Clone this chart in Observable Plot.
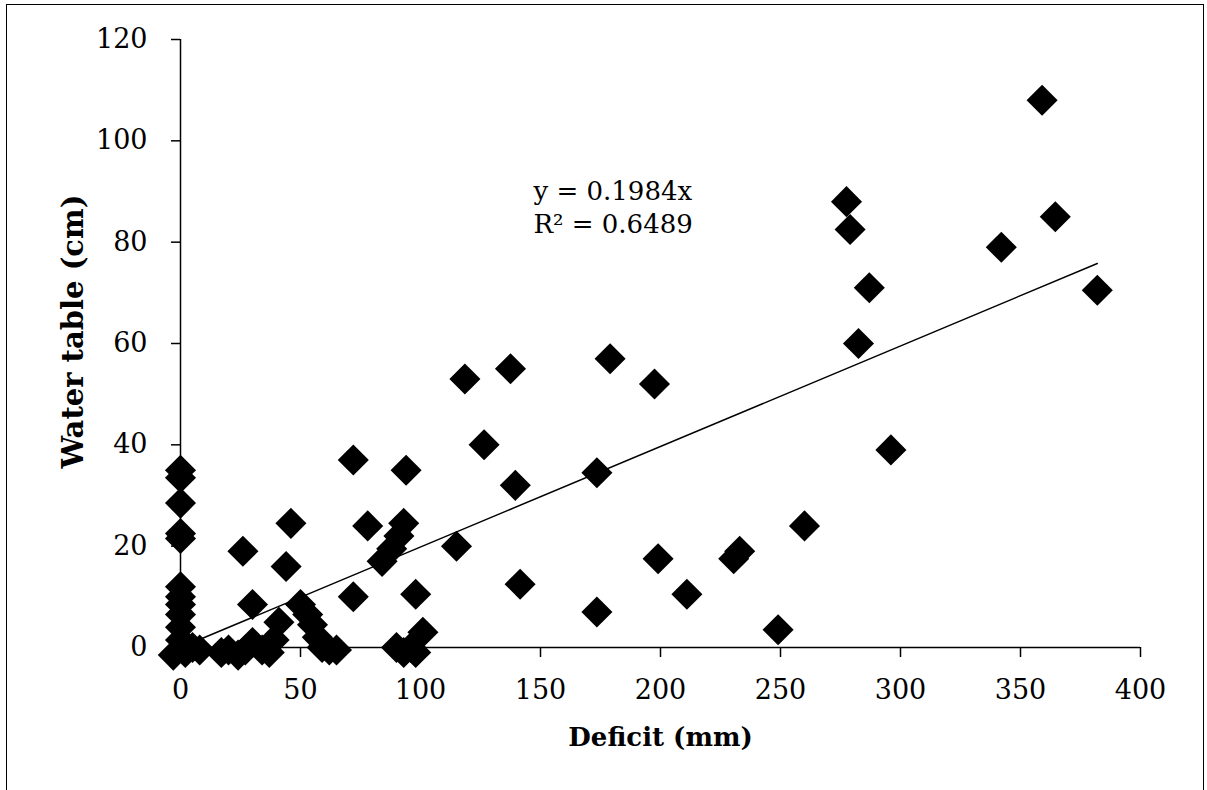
<!DOCTYPE html>
<html>
<head>
<meta charset="utf-8">
<script src="https://cdn.jsdelivr.net/npm/d3@7"></script>
<script src="https://cdn.jsdelivr.net/npm/@observablehq/plot@0.6"></script>
<style>
  body { margin: 0; background: #fff; }
  #chart { position: relative; width: 1207px; height: 790px; overflow: hidden; background: #fff; }
  #border { position: absolute; left: 6px; top: 4px; width: 1198px; height: 830px;
            border: 1.5px solid #000; box-sizing: border-box; pointer-events: none; }
  #chart svg { position: absolute; left: 0; top: 0; }
</style>
</head>
<body>
<div id="chart"><div id="border"></div></div>
<script>
// Soil moisture deficit (mm) against depth to water table (cm)
const deficit = [
  0, 0, 0, 0, 0, 0, 0, 0, 0, 0, 0, -3, 2, 5, 8,
  17, 20, 24, 27, 30, 34, 37, 39, 41, 44, 46, 26, 30,
  50, 53, 55, 57, 59, 62, 65,
  72, 72, 78, 84, 88, 91, 93, 94, 90, 93, 96, 98, 98, 101,
  115, 118.5, 126.5, 137.5, 139.5, 141.5,
  173.5, 173.5, 179, 197.5, 199, 211, 230.5, 233, 249, 260,
  277.5, 279, 282.5, 287, 296, 342, 359, 364.5, 382
];
const waterTable = [
  35, 33.5, 28.5, 22.5, 21.5, 12, 10, 8.5, 6.5, 4, 1.5, -1.5, -1, 0, -0.5,
  -1, -0.5, -1.5, -0.5, 1, -0.5, -1, 1.5, 5, 16, 24.5, 19, 8.5,
  8.5, 6.5, 4.5, 2, 0, -0.5, -0.5,
  37, 10, 24, 17, 19.5, 22, 24.5, 35, 0, -1, 0, -1, 10.5, 3,
  20, 53, 40, 55, 32, 12.5,
  34.5, 7, 57, 52, 17.5, 10.5, 17.5, 19, 3.5, 24,
  88, 82.5, 60, 71, 39, 79, 108, 85, 70.5
];
const xTicks = [0, 50, 100, 150, 200, 250, 300, 350, 400];
const yTicks = [0, 20, 40, 60, 80, 100, 120];

// Linear trend through the origin
const slope = 0.1984;
const rSquared = 0.6489;

const points = deficit.map((d, i) => ({deficit: d, water: waterTable[i]}));
const trend = [0, d3.max(deficit)].map(x => ({deficit: x, water: slope * x}));

const plot = Plot.plot({
  width: 1207,
  height: 790,
  marginLeft: 180,
  marginRight: 67,
  marginTop: 39,
  marginBottom: 143,
  style: {fontFamily: "DejaVu Serif", fontSize: "27px", color: "#000", background: "transparent", overflow: "visible"},
  x: {domain: [0, 400]},
  y: {domain: [0, 120]},
  marks: [
    Plot.ruleX([0], {y1: 0, y2: 120, stroke: "#000", strokeWidth: 1.5}),
    Plot.ruleY([0], {x1: 0, x2: 400, stroke: "#000", strokeWidth: 1.5}),
    Plot.axisX({ticks: xTicks, tickSize: 10, tickPadding: 22, label: null, strokeWidth: 1.5, fontSize: 27}),
    Plot.axisY({ticks: yTicks, tickSize: 9, tickPadding: 24, label: null, strokeWidth: 1.5, fontSize: 27}),
    Plot.dot(points, {x: "deficit", y: "water", symbol: "diamond2", r: 14, fill: "#000", stroke: "none"}),
    Plot.line(trend, {x: "deficit", y: "water", stroke: "#000", strokeWidth: 1.5}),
    Plot.text([`y = ${slope}x\nR² = ${rSquared}`], {
      frameAnchor: "top-left", dx: 353, dy: 136, textAnchor: "start", lineAnchor: "top",
      lineHeight: 1.3, fontSize: 26
    }),
    Plot.text(["Water table (cm)"], {
      frameAnchor: "left", dx: -107, dy: -12, rotate: -90, textAnchor: "middle", lineAnchor: "middle",
      fontWeight: "bold", fontSize: 29
    }),
    Plot.text(["Deficit (mm)"], {
      frameAnchor: "bottom", dy: 90, textAnchor: "middle", lineAnchor: "middle",
      fontWeight: "bold", fontSize: 26
    })
  ]
});
document.getElementById("chart").appendChild(plot);
</script>
</body>
</html>
